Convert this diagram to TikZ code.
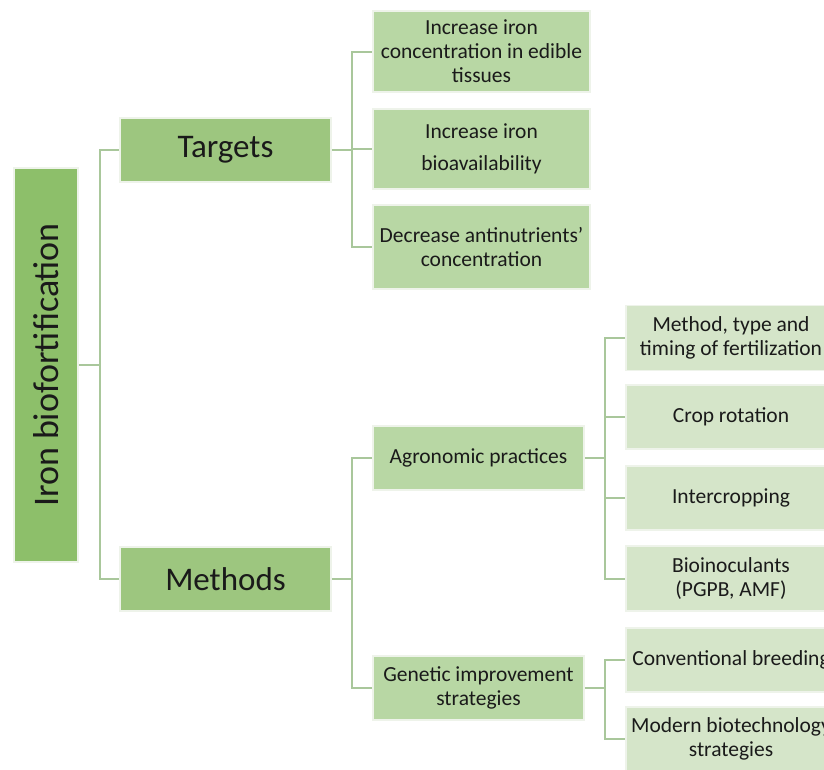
\documentclass[tikz,border=0pt]{standalone}
\usepackage{fontspec}
\setmainfont{Carlito}
\definecolor{rootc}{HTML}{8DBF6A}
\definecolor{lvone}{HTML}{9DC67F}
\definecolor{lvtwo}{HTML}{B8D7A4}
\definecolor{lvthree}{HTML}{D5E5C9}
\definecolor{connc}{HTML}{A9C79B}
\definecolor{edgec}{HTML}{EEF3EA}
\definecolor{txt}{HTML}{1A1A1A}
\tikzset{
  box/.style={draw=edgec, line width=1.5pt, inner sep=0pt, align=center, text=txt},
  rootbox/.style={box, fill=rootc, minimum width=64pt, minimum height=394pt},
  onebox/.style={box, fill=lvone, minimum width=211pt, minimum height=64pt, font=\fontsize{33}{39}\selectfont},
  twobox/.style={box, fill=lvtwo, minimum width=217pt, font=\fontsize{21.5}{24}\selectfont},
  threebox/.style={box, fill=lvthree, minimum width=210pt, font=\fontsize{21.5}{24}\selectfont},
  conn/.style={draw=connc, line width=2pt}
}
\begin{document}
\begin{tikzpicture}[x=1pt,y=-1pt]
\useasboundingbox (0,0) rectangle (824,769);
\clip (0,0) rectangle (824,769);
% nodes
\node[rootbox] (root) at (46,365) {};
\node[rotate=90, text=txt, font=\fontsize{36}{42}\selectfont] (roottext) at (46,365) {Iron biofortification};
\node[onebox] (targets) at (225.5,150) {Targets};
\node[onebox] (methods) at (225.5,579) {Methods};
\node[twobox, minimum height=81pt] (t1) at (481.5,51.5) {Increase iron\\concentration in edible\\tissues};
\node[twobox, minimum height=80pt] (t2) at (481.5,149) {Increase iron\\[8pt]bioavailability};
\node[twobox, minimum height=84pt] (t3) at (481.5,247) {Decrease antinutrients’\\concentration};
\node[twobox, minimum width=211pt, minimum height=64pt] (agro) at (478.5,458) {Agronomic practices};
\node[twobox, minimum width=211pt, minimum height=64pt] (gen) at (478.5,688) {Genetic improvement\\strategies};
\node[threebox, minimum height=65pt] (a1) at (731,338) {Method, type and\\timing of fertilization};
\node[threebox, minimum height=64pt] (a2) at (731,417) {Crop rotation};
\node[threebox, minimum height=64pt] (a3) at (731,498) {Intercropping};
\node[threebox, minimum height=65pt] (a4) at (731,578.5) {Bioinoculants\\(PGPB, AMF)};
\node[threebox, minimum height=64pt] (g1) at (731,660) {Conventional breeding};
\node[threebox, minimum height=64pt] (g2) at (731,739) {Modern biotechnology\\strategies};
% junctions
\coordinate (j0) at (100,365);
\coordinate (jt) at (352,150);
\coordinate (jm) at (352,579);
\coordinate (ja) at (605,458);
\coordinate (jg) at (605,688);
% connectors
\draw[conn] (root.east) -- (j0);
\draw[conn] (j0) |- (targets.west);
\draw[conn] (j0) |- (methods.west);
\draw[conn] (targets.east) -- (jt);
\draw[conn] (jt) |- (t1.west);
\draw[conn] (jt) |- (t2.west);
\draw[conn] (jt) |- (t3.west);
\draw[conn] (methods.east) -- (jm);
\draw[conn] (jm) |- (agro.west);
\draw[conn] (jm) |- (gen.west);
\draw[conn] (agro.east) -- (ja);
\draw[conn] (ja) |- (a1.west);
\draw[conn] (ja) |- (a2.west);
\draw[conn] (ja) |- (a3.west);
\draw[conn] (ja) |- (a4.west);
\draw[conn] (gen.east) -- (jg);
\draw[conn] (jg) |- (g1.west);
\draw[conn] (jg) |- (g2.west);
\end{tikzpicture}
\end{document}
